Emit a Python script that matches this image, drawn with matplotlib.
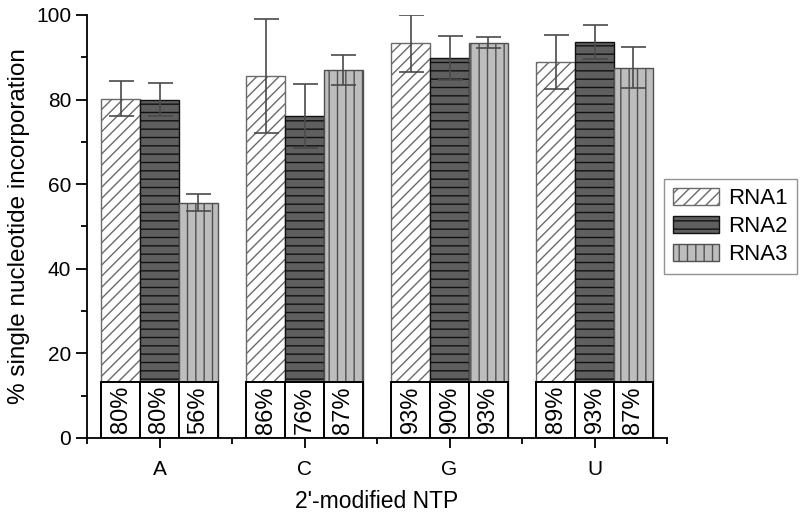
import numpy as np
import matplotlib
matplotlib.use("Agg")
from matplotlib import pyplot as plt
from matplotlib.patches import Rectangle
from matplotlib.ticker import MultipleLocator

plt.rcParams['font.family'] = ['Liberation Sans', 'DejaVu Sans']
plt.rcParams['hatch.linewidth'] = 1.0

# Data
categories = ['A', 'C', 'G', 'U']
series = ['RNA1', 'RNA2', 'RNA3']
rna1 = [80.2, 85.6, 93.3, 88.9]
rna2 = [80.0, 76.1, 89.8, 93.6]
rna3 = [55.6, 87.0, 93.4, 87.5]
err1 = [4.2, 13.5, 6.7, 6.3]
err2 = [3.8, 7.6, 5.3, 4.0]
err3 = [2.0, 3.5, 1.3, 4.8]
pct1 = ['80%', '86%', '93%', '89%']
pct2 = ['80%', '76%', '90%', '93%']
pct3 = ['56%', '87%', '93%', '87%']

values = [rna1, rna2, rna3]
errors = [err1, err2, err3]
pct_labels = [pct1, pct2, pct3]

styles = [
    dict(facecolor='white', edgecolor='#6a6a6a', hatch='///'),
    dict(facecolor='#5f5f5f', edgecolor='#111111', hatch='--'),
    dict(facecolor='#bdbdbd', edgecolor='#505050', hatch='||'),
]

fig = plt.figure(figsize=(8, 5.14), dpi=100)
ax = fig.add_axes([0.10875, 0.148, 0.725, 0.823])

x = np.arange(len(categories))
width = 0.267
box_top = 13.3

for i, (vals, errs, labs, st) in enumerate(zip(values, errors, pct_labels, styles)):
    xs = x + (i - 1) * width
    ax.bar(xs, vals, width, label=series[i], linewidth=1.0, zorder=2, **st)
    ax.errorbar(xs, vals, yerr=errs, fmt='none', ecolor='#4a4a4a', elinewidth=1.2,
                capsize=9, capthick=1.2, zorder=3)
    # white value box at the bottom of each bar
    for xi, lab in zip(xs, labs):
        ax.add_patch(Rectangle((xi - width / 2, 0), width, box_top, facecolor='white',
                               edgecolor='black', linewidth=1.4, zorder=4))
        ax.text(xi, box_top / 2, lab, rotation=90, ha='center', va='center',
                fontsize=17, zorder=5)

ax.set_xlim(-0.5, 3.5)
ax.set_ylim(0, 100)
ax.set_xticks(x)
ax.set_xticklabels(categories)
ax.xaxis.set_minor_locator(MultipleLocator(1.0, offset=0.5))
ax.yaxis.set_major_locator(MultipleLocator(20))
ax.yaxis.set_minor_locator(MultipleLocator(10))

for side in ['top', 'right']:
    ax.spines[side].set_visible(False)
for side in ['left', 'bottom']:
    ax.spines[side].set_linewidth(1.3)

ax.tick_params(axis='both', which='major', labelsize=15, length=8, width=1.3)
ax.tick_params(axis='both', which='minor', length=4, width=1.3)
ax.tick_params(axis='x', which='major', length=7, pad=9)

ax.set_ylabel('% single nucleotide incorporation', fontsize=17.5, labelpad=4)
ax.set_xlabel("2'-modified NTP", fontsize=16.5, labelpad=8)

leg = fig.legend(loc='upper right', bbox_to_anchor=(0.996, 0.652), fontsize=16,
                 frameon=True, fancybox=False, edgecolor='#777777', handlelength=2.1,
                 handleheight=0.8, handletextpad=0.4, borderpad=0.4, labelspacing=0.3,
                 borderaxespad=0)
leg.get_frame().set_linewidth(1.0)

fig.savefig('out.png', dpi=100)
